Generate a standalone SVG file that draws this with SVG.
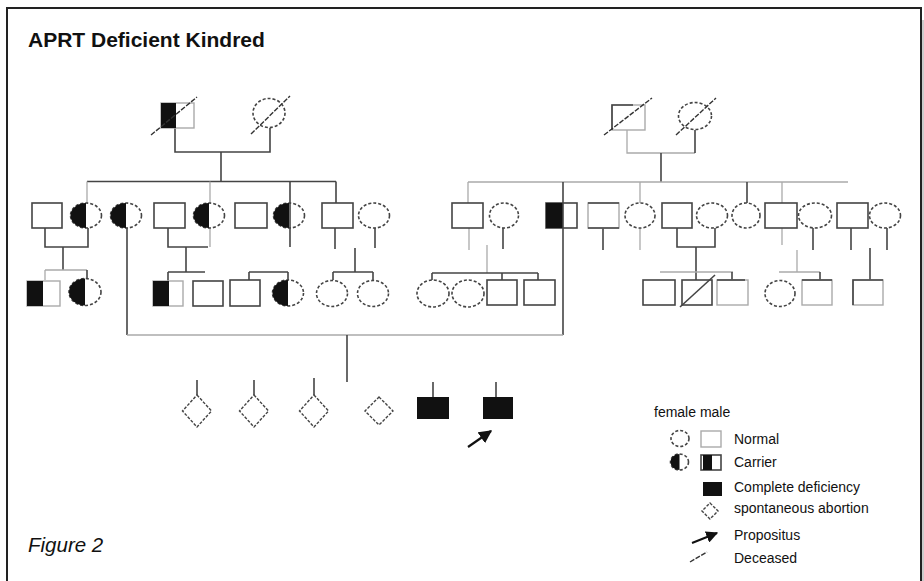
<svg xmlns="http://www.w3.org/2000/svg" width="924" height="581" viewBox="0 0 924 581">
<defs>
<style>
.ln{stroke:#444;stroke-width:1.6;fill:none}
.lt{stroke:#aaa;stroke-width:1.3;fill:none}
.sq{fill:#fff;stroke:#444;stroke-width:1.6}
.sql{fill:#fff;stroke:#aaa;stroke-width:1.4}
.fc{fill:#fff;stroke:#444;stroke-width:1.6;stroke-dasharray:3 2}
.blk{fill:#111}
.dm{fill:#fff;stroke:#444;stroke-width:1.4;stroke-dasharray:3 1.5}
.sl{stroke:#333;stroke-width:1.4;stroke-dasharray:5 1.5}
.t{font-family:"Liberation Sans",Arial,sans-serif;fill:#111}
</style>
<marker id="ah" viewBox="0 0 10 10" refX="9" refY="5" markerWidth="6" markerHeight="6" orient="auto">
<path d="M0,0 L10,5 L0,10 Z" fill="#111"/>
</marker>
</defs>
<rect x="0" y="0" width="924" height="581" fill="#fff"/>
<rect x="7" y="8" width="914" height="590" fill="#fff" stroke="#222" stroke-width="2"/>
<line x1="923" y1="20" x2="923" y2="581" stroke="#ccc" stroke-width="2"/>
<text class="t" x="28" y="46.5" font-size="21" font-weight="bold">APRT Deficient Kindred</text>
<text class="t" x="28" y="552" font-size="20.5" font-style="italic">Figure 2</text>

<g id="connectors">
<path class="ln" d="M175 128 V152 H270 V128"/>
<path class="ln" d="M221 152 V182"/>
<path class="ln" d="M87 181.5 H336"/>
<path class="lt" d="M87 181.5 V203"/>
<path class="lt" d="M210 181.5 V203"/>
<path class="ln" d="M290 181.5 V247"/>
<path class="ln" d="M336 181.5 V203"/>
<path class="lt" d="M627 130 V153 H695"/>
<path class="ln" d="M695 130 V153"/>
<path class="ln" d="M661 153 V182"/>
<path class="lt" d="M468 182 H848"/>
<path class="lt" d="M468 182 V203"/>
<path class="ln" d="M563 182 V335"/>
<path class="lt" d="M640 182 V203"/>
<path class="ln" d="M747 182 V203"/>
<path class="lt" d="M782 182 V245"/>
<path class="ln" d="M45 228 V247 H88 V228"/>
<path class="ln" d="M63 247 V270"/>
<path class="lt" d="M45 270 H87"/>
<path class="lt" d="M45 270 V280"/>
<path class="ln" d="M87 270 V278"/>
<path class="ln" d="M127 228 V335"/>
<path class="ln" d="M168 228 V247 H208"/>
<path class="lt" d="M210 228 V247"/>
<path class="ln" d="M186 247 V272"/>
<path class="ln" d="M168 272 H205"/>
<path class="ln" d="M168 272 V281"/>
<path class="ln" d="M249 272 H288"/>
<path class="ln" d="M249 272 V280"/>
<path class="ln" d="M288 272 V280"/>
<path class="ln" d="M335 228 V249"/>
<path class="ln" d="M375 228 V248"/>
<path class="ln" d="M355 248 V272"/>
<path class="ln" d="M333 272 H373"/>
<path class="ln" d="M333 272 V280"/>
<path class="ln" d="M373 272 V280"/>
<path class="lt" d="M469 228 V250"/>
<path class="ln" d="M503 228 V249"/>
<path class="lt" d="M487 245 V273"/>
<path class="ln" d="M432 273 H538"/>
<path class="ln" d="M432 273 V280"/>
<path class="ln" d="M502 273 V280"/>
<path class="ln" d="M538 273 V280"/>
<path class="ln" d="M603 228 V250"/>
<path class="lt" d="M640 228 V250"/>
<path class="ln" d="M677 228 V247 H715 V228"/>
<path class="ln" d="M696 247 V280"/>
<path class="lt" d="M660 272 H733"/>
<path class="ln" d="M732 272 V280"/>
<path class="ln" d="M813 228 V250"/>
<path class="lt" d="M797 250 V272"/>
<path class="lt" d="M779 272 H820"/>
<path class="ln" d="M820 272 V280"/>
<path class="ln" d="M851 228 V250"/>
<path class="ln" d="M887 228 V250"/>
<path class="ln" d="M870 248 V280"/>
<path class="lt" d="M127 335 H563"/>
<path class="ln" d="M347 335 V382"/>
<path class="ln" d="M197 380 V395"/>
<path class="ln" d="M254 380 V395"/>
<path class="ln" d="M314 378 V395"/>
<path class="ln" d="M433 382 V397"/>
<path class="ln" d="M496 382 V397"/>
</g>

<g id="I-1">
<rect class="sql" x="161" y="103" width="33" height="25"/>
<rect class="blk" x="161" y="103" width="15" height="25"/>
<line class="sl" x1="151" y1="135" x2="197" y2="97"/>
</g>
<g id="I-2">
<ellipse class="fc" cx="269" cy="113" rx="16" ry="14.5"/>
<line class="sl" x1="251" y1="134" x2="290" y2="96"/>
</g>
<g id="I-3">
<rect class="sql" x="612" y="105" width="33" height="25"/>
<path class="ln" d="M612 130 V105 H633"/>
<line class="sl" x1="604" y1="135" x2="652" y2="98"/>
</g>
<g id="I-4">
<ellipse class="fc" cx="695" cy="116" rx="16.5" ry="13.5"/>
<line class="sl" x1="676" y1="135" x2="716" y2="98"/>
</g>

<g id="II-1"><rect class="sq" x="32" y="203" width="30" height="25"/></g>
<g id="II-2"><ellipse class="fc" cx="86" cy="215.5" rx="15.5" ry="12.5"/><path class="blk" d="M86 203 A15.5 12.5 0 0 0 86 228 Z"/></g>
<g id="II-3"><ellipse class="fc" cx="126" cy="215.5" rx="15.5" ry="12.5"/><path class="blk" d="M126 203 A15.5 12.5 0 0 0 126 228 Z"/></g>
<g id="II-4"><rect class="sq" x="154" y="203" width="31" height="25"/></g>
<g id="II-5"><ellipse class="fc" cx="209" cy="215.5" rx="15.5" ry="12.5"/><path class="blk" d="M209 203 A15.5 12.5 0 0 0 209 228 Z"/></g>
<g id="II-6"><rect class="sq" x="235" y="203" width="32" height="25"/></g>
<g id="II-7"><ellipse class="fc" cx="289" cy="215.5" rx="15.5" ry="12.5"/><path class="blk" d="M289 203 A15.5 12.5 0 0 0 289 228 Z"/><line class="ln" x1="290" y1="203" x2="290" y2="228"/></g>
<g id="II-8"><rect class="sq" x="322" y="203" width="31" height="25"/></g>
<g id="II-9"><ellipse class="fc" cx="374" cy="215.5" rx="15.5" ry="12.5"/></g>

<g id="II-10"><rect class="sq" x="452" y="203" width="31" height="25"/></g>
<g id="II-11"><ellipse class="fc" cx="504" cy="215.5" rx="14.5" ry="12.5"/></g>
<g id="II-12"><rect class="sq" x="546" y="203" width="31" height="25"/><rect class="blk" x="546" y="203" width="17" height="25"/><line class="ln" x1="563" y1="203" x2="563" y2="228"/></g>
<g id="II-13"><rect class="sql" x="588" y="203" width="31" height="25"/><path class="ln" d="M588 203 H619 M588 228 H619"/></g>
<g id="II-14"><ellipse class="fc" cx="640" cy="215.5" rx="15" ry="12.5"/></g>
<g id="II-15"><rect class="sq" x="662" y="203" width="30" height="25"/></g>
<g id="II-16"><ellipse class="fc" cx="712" cy="215.5" rx="15.5" ry="12.5"/></g>
<g id="II-17"><ellipse class="fc" cx="746" cy="215.5" rx="14" ry="12.5"/></g>
<g id="II-18"><rect class="sq" x="765" y="203" width="32" height="25"/></g>
<g id="II-19"><ellipse class="fc" cx="815" cy="215.5" rx="16.5" ry="12.5"/></g>
<g id="II-20"><rect class="sq" x="837" y="203" width="31" height="25"/></g>
<g id="II-21"><ellipse class="fc" cx="885" cy="215.5" rx="15.5" ry="12.5"/></g>

<g id="III-1"><rect class="sql" x="27" y="281" width="33" height="25"/><rect class="blk" x="27" y="281" width="16" height="25"/></g>
<g id="III-2"><ellipse class="fc" cx="85" cy="292" rx="16" ry="13.5"/><path class="blk" d="M85 278.5 A16 13.5 0 0 0 85 305.5 Z"/></g>
<g id="III-3"><rect class="sql" x="153" y="281" width="30" height="25"/><rect class="blk" x="153" y="281" width="16" height="25"/></g>
<g id="III-4"><rect class="sq" x="193" y="281" width="30" height="25"/></g>
<g id="III-5"><rect class="sq" x="230" y="280" width="30" height="26"/></g>
<g id="III-6"><ellipse class="fc" cx="288" cy="293" rx="15.5" ry="13"/><path class="blk" d="M288 280 A15.5 13 0 0 0 288 306 Z"/></g>
<g id="III-7"><ellipse class="fc" cx="332" cy="293.5" rx="15.5" ry="13"/></g>
<g id="III-8"><ellipse class="fc" cx="373" cy="293.5" rx="15.5" ry="13"/></g>

<g id="III-9"><ellipse class="fc" cx="433" cy="293.5" rx="16" ry="13.5"/></g>
<g id="III-10"><ellipse class="fc" cx="468" cy="293.5" rx="16" ry="13.5"/></g>
<g id="III-11"><rect class="sq" x="487" y="280" width="30" height="25"/></g>
<g id="III-12"><rect class="sq" x="524" y="280" width="31" height="25"/></g>
<g id="III-13"><rect class="sq" x="643" y="280" width="32" height="25"/></g>
<g id="III-14"><rect class="sq" x="682" y="280" width="30" height="25"/><line class="ln" x1="680" y1="307" x2="715" y2="275"/></g>
<g id="III-15"><rect class="sql" x="717" y="280" width="31" height="25"/><path class="ln" d="M717 280 H745"/></g>
<g id="III-16"><ellipse class="fc" cx="780" cy="293.5" rx="15" ry="13"/></g>
<g id="III-17"><rect class="sql" x="802" y="280" width="30" height="25"/><path class="ln" d="M802 280 H832"/></g>
<g id="III-18"><rect class="sql" x="853" y="280" width="30" height="25"/><path class="ln" d="M853 305 V280 H883"/></g>

<g id="IV-1"><path class="dm" d="M197 395 L211.5 411 L197 427 L182.5 411 Z"/></g>
<g id="IV-2"><path class="dm" d="M254 395 L268.5 411 L254 427 L239.5 411 Z"/></g>
<g id="IV-3"><path class="dm" d="M314 395 L328.5 411 L314 427 L299.5 411 Z"/></g>
<g id="IV-4"><path class="dm" d="M379 397 L393 411 L379 425 L365 411 Z"/></g>
<g id="IV-5"><rect class="blk" x="417" y="397" width="32" height="22"/></g>
<g id="IV-6"><rect class="blk" x="483" y="397" width="30" height="22"/>
<line x1="468" y1="447" x2="491" y2="431" stroke="#111" stroke-width="2.2" marker-end="url(#ah)"/></g>

<g id="legend">
<text class="t" x="654" y="417" font-size="14">female male</text>
<ellipse class="fc" cx="680" cy="438.5" rx="9" ry="8"/>
<rect class="sql" x="701" y="431" width="20" height="16" stroke="#777"/>
<text class="t" x="734" y="444" font-size="14">Normal</text>
<ellipse class="fc" cx="679.5" cy="462" rx="9" ry="8"/>
<path class="blk" d="M679.5 454 A9 8 0 0 0 679.5 470 Z"/>
<rect class="sq" x="701" y="455" width="20" height="15"/>
<rect class="blk" x="703" y="455" width="9" height="15"/>
<text class="t" x="734" y="467" font-size="14">Carrier</text>
<rect class="blk" x="703" y="482" width="19" height="14"/>
<text class="t" x="734" y="492" font-size="14">Complete deficiency</text>
<path class="dm" d="M710 503 L718 511 L710 519 L702 511 Z"/>
<text class="t" x="734" y="513" font-size="14">spontaneous abortion</text>
<line x1="692" y1="543" x2="717" y2="533" stroke="#111" stroke-width="2" marker-end="url(#ah)"/>
<text class="t" x="734" y="540" font-size="14">Propositus</text>
<line class="sl" x1="690" y1="562" x2="707" y2="552"/>
<text class="t" x="734" y="563" font-size="14">Deceased</text>
</g>
</svg>
